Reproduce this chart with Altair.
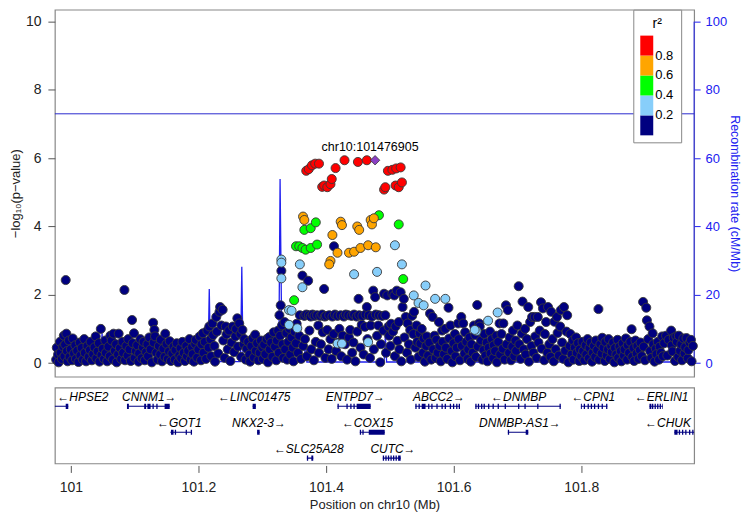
import altair as alt
import pandas as pd

# ---------------- axes / ranges ----------------
X_DOMAIN = [100.975, 101.977]
Y_DOMAIN = [-0.4, 10.35]
R_DOMAIN = [-4.0, 103.5]
X_TICKS = [101.0, 101.2, 101.4, 101.6, 101.8]
Y_TICKS = [0, 2, 4, 6, 8, 10]
R_TICKS = [0, 20, 40, 60, 80, 100]
R2_BREAKS = [0.2, 0.4, 0.6, 0.8]
R2_COLORS = ["#000080", "#87CEFA", "#00FF00", "#FFA500", "#FF0000"]

LEAD_POS = 101.476905
LEAD_LOGP = 5.94
LEAD_LABEL = "chr10:101476905"
SIG_LEVEL = 7.3

# ---------------- SNPs (position Mb, -log10 p) ----------------
navy = [
    (100.977,0.10),(100.978,0.45),(100.980,0.25),(100.981,0.02),(100.983,0.62),(100.984,0.30),(100.986,0.12),
    (100.988,0.48),(100.989,0.80),(100.990,0.20),(100.991,0.54),(100.992,2.43),(100.993,0.86),(100.994,0.35),
    (100.995,0.05),(100.997,0.66),(100.998,0.18),(101.000,0.40),(101.002,0.08),(101.003,0.72),(101.005,0.28),
    (101.007,0.52),(101.008,0.12),(101.010,0.36),(101.012,0.03),(101.014,0.60),(101.015,0.22),(101.017,0.44),
    (101.019,0.10),(101.021,0.70),(101.022,0.30),(101.024,0.05),(101.026,0.50),(101.028,0.18),(101.030,0.38),
    (101.031,0.62),(101.033,0.08),(101.035,0.26),(101.037,0.46),(101.039,0.78),(101.040,0.14),(101.042,0.34),
    (101.044,0.58),(101.045,0.04),(101.047,1.00),(101.048,0.24),(101.050,0.42),
    (101.052,0.12),(101.054,0.66),(101.055,0.30),(101.057,0.05),(101.059,0.48),(101.061,0.20),(101.062,0.80),
    (101.064,0.66),(101.066,0.10),(101.067,0.86),(101.069,0.36),(101.071,0.55),(101.072,0.02),(101.074,0.25),
    (101.075,0.86),(101.077,0.44),(101.079,0.12),(101.081,0.62),(101.082,0.30),(101.084,2.14),(101.085,0.08),
    (101.087,0.50),(101.089,0.22),(101.090,0.70),(101.092,0.40),(101.094,0.06),(101.096,1.26),(101.097,0.58),
    (101.099,0.87),(101.100,0.15),(101.102,0.35),
    (101.104,0.52),(101.106,0.04),(101.107,0.28),(101.109,0.70),(101.111,0.14),(101.113,0.46),(101.114,0.62),
    (101.116,0.08),(101.118,0.32),(101.120,0.55),(101.121,0.20),(101.123,0.75),(101.125,0.40),(101.127,0.02),
    (101.129,1.18),(101.130,0.60),(101.131,0.97),(101.132,0.78),(101.134,0.30),(101.136,0.10),(101.138,0.50),
    (101.140,0.25),(101.141,0.68),(101.143,0.05),(101.145,0.42),(101.147,0.18),(101.148,0.86),(101.150,0.56),
    (101.152,0.12),(101.154,0.34),(101.155,0.64),(101.157,0.06),
    (101.159,0.28),(101.161,0.48),(101.163,0.10),(101.164,0.38),(101.166,0.58),(101.168,0.02),(101.170,0.22),
    (101.172,0.44),(101.173,0.14),(101.175,0.62),(101.177,0.30),(101.179,0.06),(101.181,0.50),(101.182,0.20),
    (101.184,0.36),(101.186,0.70),(101.188,0.10),(101.190,0.46),(101.191,0.26),(101.193,0.04),(101.195,0.56),
    (101.196,0.68),(101.198,0.16),(101.200,0.40),
    (101.202,0.78),(101.204,0.08),(101.205,0.55),(101.207,0.87),(101.208,0.30),(101.210,0.62),(101.212,0.12),
    (101.214,0.95),(101.216,0.45),(101.217,1.07),(101.219,0.70),(101.220,0.20),(101.222,1.16),(101.223,0.82),
    (101.225,0.50),(101.226,0.04),(101.228,1.35),(101.229,0.92),(101.231,0.28),(101.233,1.50),(101.234,1.64),
    (101.236,1.10),(101.238,1.56),(101.239,0.66),(101.241,0.15),(101.243,1.07),(101.244,0.84),(101.246,0.40),
    (101.248,0.95),(101.250,0.06),(101.252,0.60),(101.254,1.07),(101.256,0.32),(101.258,0.78),(101.259,1.00),
    (101.261,1.31),(101.262,0.48),(101.264,1.16),(101.266,0.85),(101.267,0.18),(101.269,0.97),(101.271,0.55),
    (101.272,0.70),
    (101.274,0.10),(101.276,0.42),(101.278,0.62),(101.280,0.25),(101.281,0.04),(101.283,0.50),(101.285,0.72),
    (101.287,0.16),(101.289,0.83),(101.290,0.36),(101.292,0.58),(101.294,0.08),(101.296,0.30),(101.298,0.66),
    (101.300,0.46),(101.301,0.12),(101.303,0.54),(101.305,0.26),(101.307,0.70),(101.309,0.02),(101.311,0.76),
    (101.312,0.40),(101.314,0.60),(101.316,0.18),(101.318,0.90),(101.320,0.48),(101.322,0.08),(101.323,0.66),
    (101.325,0.95),(101.326,0.30),(101.327,1.40),(101.328,0.80),(101.329,1.69),(101.330,2.70),(101.331,1.10),
    (101.332,0.55),(101.333,0.15),
    (101.335,1.20),(101.336,0.40),(101.338,0.88),(101.339,0.10),(101.341,0.62),(101.343,1.00),(101.344,0.25),
    (101.346,0.75),(101.348,0.45),(101.349,0.05),(101.351,0.92),(101.353,0.58),(101.354,1.15),(101.356,0.30),
    (101.358,0.80),(101.359,1.40),(101.361,0.12),(101.363,2.56),(101.364,0.50),(101.366,1.38),(101.367,0.70),
    (101.369,1.42),(101.370,0.20),(101.372,2.41),(101.373,1.40),(101.374,0.95),(101.376,1.36),(101.377,0.40),
    (101.379,1.42),(101.381,0.08),(101.382,1.38),(101.384,0.62),(101.386,1.40),(101.388,1.10),(101.389,0.30),
    (101.391,1.38),(101.392,0.55),(101.394,1.42),(101.395,0.90),(101.397,2.17),(101.398,1.36),(101.399,0.15),
    (101.400,1.38),(101.402,0.97),(101.404,0.40),(101.405,1.40),(101.407,0.70),(101.409,0.12),(101.410,1.36),
    (101.412,0.85),(101.4125,3.42),(101.414,1.42),(101.416,0.35),(101.418,1.38),(101.419,0.60),(101.421,1.00),
    (101.423,1.40),(101.424,0.20),(101.426,0.80),(101.428,1.36),(101.430,0.55),(101.431,1.42),(101.433,0.10),
    (101.435,1.40),(101.436,0.75),(101.438,0.97),(101.440,1.38),(101.441,0.30),(101.443,0.60),(101.444,1.42),
    (101.446,0.05),(101.448,1.36),(101.449,0.92),(101.451,1.88),(101.452,1.40),(101.454,0.45),(101.456,1.12),
    (101.457,1.38),(101.459,0.25),(101.461,1.06),(101.462,1.42),(101.464,1.64),(101.465,0.70),(101.467,1.40),
    (101.469,0.15),(101.470,1.10),(101.472,1.36),(101.474,2.12),(101.475,0.40),(101.477,1.93),(101.478,1.42),
    (101.480,0.80),(101.482,1.10),(101.483,1.40),(101.485,0.02),(101.486,0.55),(101.488,1.38),(101.490,0.95),
    (101.491,2.03),(101.493,1.40),(101.494,0.30),(101.496,1.98),(101.498,1.07),(101.499,0.80),(101.501,0.50),
    (101.502,1.15),(101.504,2.03),(101.505,0.92),(101.507,1.98),(101.508,0.20),(101.509,1.07),(101.511,2.12),
    (101.512,0.65),(101.514,1.20),(101.515,0.40),(101.517,2.07),(101.518,0.05),(101.520,1.64),(101.522,1.88),
    (101.523,0.75),(101.525,1.35),(101.527,0.30),(101.528,1.16),(101.530,0.55),(101.532,0.97),(101.533,0.10),
    (101.535,1.38),(101.537,0.85),(101.538,1.50),(101.540,0.45),(101.542,1.10),(101.543,0.62),(101.545,0.18),
    (101.547,0.87),(101.548,0.57),(101.550,1.00),(101.552,0.30),(101.553,0.72),(101.555,0.04),(101.557,0.50),
    (101.558,0.78),
    (101.560,0.22),(101.562,0.60),(101.563,1.45),(101.565,0.10),(101.567,1.35),(101.568,0.40),(101.570,0.80),
    (101.572,0.15),(101.573,0.68),(101.575,0.30),(101.577,1.20),(101.578,0.50),(101.580,0.05),(101.582,0.95),
    (101.583,0.62),(101.585,0.26),(101.587,1.00),(101.588,0.45),(101.590,0.12),(101.592,1.62),(101.593,0.72),
    (101.595,1.10),(101.597,0.35),(101.598,0.02),(101.600,0.58),(101.602,0.85),(101.603,0.20),(101.605,0.45),
    (101.607,1.16),(101.608,0.70),(101.610,0.08),(101.612,1.35),(101.613,0.50),(101.615,1.16),(101.617,0.28),
    (101.618,0.90),(101.620,0.62),(101.622,0.12),(101.623,0.40),(101.625,0.75),(101.627,0.04),(101.628,0.55),
    (101.630,0.30),(101.632,1.10),(101.634,0.82),(101.635,0.18),(101.637,1.70),(101.638,0.48),(101.640,1.16),
    (101.641,1.07),(101.643,0.66),(101.645,0.10),(101.647,0.38),(101.648,0.85),
    (101.650,0.22),(101.652,0.60),(101.653,0.05),(101.655,0.45),(101.657,0.92),(101.658,0.28),(101.660,0.70),
    (101.662,0.14),(101.663,0.52),(101.665,0.35),(101.667,0.80),(101.668,0.02),(101.670,0.62),(101.672,1.16),
    (101.673,0.25),(101.675,0.85),(101.677,0.42),(101.678,1.16),(101.680,0.10),(101.682,1.69),(101.683,0.55),
    (101.685,1.55),(101.687,0.30),(101.688,0.75),(101.690,0.08),(101.692,0.48),(101.693,0.95),(101.695,0.20),
    (101.697,0.66),(101.698,0.36),(101.700,1.10),(101.702,2.25),(101.703,0.55),(101.705,0.12),(101.707,0.86),
    (101.708,1.80),(101.710,0.40),(101.712,1.00),(101.713,0.25),(101.715,0.70),(101.717,1.64),(101.718,0.04),
    (101.720,1.20),(101.722,0.50),(101.723,1.35),(101.725,0.30),(101.727,1.35),(101.728,0.78),(101.730,0.15),
    (101.732,1.35),(101.733,0.60),(101.735,0.95),(101.737,1.78),(101.738,0.42),(101.740,1.60),(101.742,0.08),
    (101.743,0.85),(101.745,1.20),(101.747,0.30),(101.748,1.64),
    (101.750,0.55),(101.752,0.18),(101.753,1.50),(101.755,0.70),(101.757,0.05),(101.758,1.21),(101.760,0.40),
    (101.762,1.35),(101.763,0.88),(101.765,0.22),(101.767,1.07),(101.768,1.55),(101.770,0.60),(101.772,0.12),
    (101.773,1.64),(101.775,0.36),(101.777,0.92),(101.778,1.40),(101.780,0.02),(101.782,0.50),(101.783,0.85),
    (101.785,0.25),(101.787,0.66),(101.788,0.10),(101.790,0.45),(101.792,0.75),(101.793,0.30),(101.795,0.58),
    (101.797,0.06),(101.798,0.40),(101.800,0.20),(101.802,0.62),(101.803,0.35),(101.805,0.08),(101.807,0.52),
    (101.808,0.25),(101.810,0.70),(101.812,0.14),(101.813,0.44),(101.815,0.60),(101.817,0.04),(101.818,0.30),
    (101.820,0.50),(101.822,0.18),(101.823,0.66),(101.825,0.38),(101.827,1.58),(101.828,0.10),(101.830,0.55),
    (101.832,0.28),(101.833,0.74),(101.835,0.45),(101.837,0.06),(101.838,0.62),(101.840,0.22),(101.842,0.40),
    (101.843,0.70),(101.845,0.12),(101.847,0.50),
    (101.848,0.32),(101.850,0.60),(101.852,0.02),(101.853,0.44),(101.855,0.25),(101.857,0.68),(101.858,0.15),
    (101.860,0.48),(101.862,0.35),(101.863,0.05),(101.865,0.58),(101.867,0.22),(101.868,0.40),(101.870,0.72),
    (101.872,0.10),(101.873,0.52),(101.875,0.30),(101.877,0.62),(101.879,0.99),(101.880,0.18),(101.882,0.44),
    (101.883,0.06),(101.885,0.66),(101.887,0.28),(101.888,0.50),(101.890,0.12),(101.892,0.38),(101.893,0.60),
    (101.895,0.20),(101.897,1.79),(101.898,0.48),(101.900,0.08),(101.902,1.62),(101.903,1.25),(101.905,0.70),
    (101.907,1.07),(101.908,0.35),(101.910,0.15),(101.912,0.87),(101.913,0.55),(101.915,0.04),(101.917,0.42),
    (101.918,0.26),(101.920,0.62),(101.922,0.10),(101.923,0.48),(101.925,0.30),(101.927,0.78),(101.928,0.20),
    (101.930,0.58),(101.933,0.80),(101.935,0.22),(101.937,0.68),(101.941,0.95),(101.942,0.52),(101.943,0.34),
    (101.945,0.74),(101.947,0.06),(101.949,0.78),(101.950,0.62),(101.952,0.18),(101.953,0.80),(101.955,0.36),
    (101.957,0.55),(101.958,0.08),(101.960,0.72),(101.962,0.28),(101.963,0.46),(101.965,0.73),(101.967,0.14),
    (101.968,0.38),(101.970,0.60),(101.972,0.68),(101.973,0.05),(101.975,0.50),
]
light_blue = [
    (101.330,3.03),(101.330,2.94),(101.330,2.48),(101.342,1.55),(101.346,1.53),(101.342,1.12),(101.355,1.02),
    (101.359,2.89),(101.363,2.22),(101.418,0.57),(101.425,0.57),(101.466,0.61),(101.444,2.60),(101.480,2.67),
    (101.508,3.45),(101.519,2.89),(101.556,2.27),(101.5375,1.98),(101.545,1.76),(101.553,1.69),(101.571,1.88),
    (101.587,1.88),(101.669,1.48),(101.654,1.24),(101.636,0.94),(101.633,0.97),
]
green = [
    (101.350,1.84),(101.521,2.46),(101.514,4.06),(101.483,4.33),(101.353,3.42),(101.358,3.42),(101.363,3.37),
    (101.368,3.32),(101.376,3.37),(101.386,3.47),(101.366,3.90),(101.376,3.95),(101.384,4.12),
]
orange = [
    (101.364,4.29),(101.366,4.19),(101.423,4.14),(101.425,4.04),(101.449,4.00),(101.452,3.90),(101.470,4.19),
    (101.472,4.06),(101.475,4.24),(101.410,3.75),(101.418,3.23),(101.436,3.23),(101.444,3.26),(101.454,3.37),
    (101.466,3.45),(101.478,3.39),(101.407,2.99),(101.405,2.89),
]
red = [
    (101.369,5.63),(101.373,5.68),(101.378,5.79),(101.383,5.84),(101.389,5.84),(101.415,5.71),(101.429,5.94),
    (101.450,5.89),(101.464,5.94),(101.497,5.63),(101.504,5.66),(101.510,5.70),(101.517,5.73),(101.394,5.16),
    (101.397,5.20),(101.402,5.15),(101.407,5.24),(101.409,5.39),(101.491,5.08),(101.493,5.15),(101.509,5.20),
    (101.514,5.15),(101.519,5.29),
]
GROUP_R2 = {"navy": 0.1, "light_blue": 0.3, "green": 0.5, "orange": 0.7, "red": 0.9}

# ---------------- recombination rate ----------------
rec_pos = [100.975,
           101.047, 101.049, 101.051,
           101.115, 101.117, 101.119,
           101.215, 101.217, 101.219,
           101.266, 101.268, 101.270,
           101.326, 101.328, 101.331,
           101.366, 101.368, 101.370,
           101.491, 101.493, 101.495,
           101.588, 101.5895, 101.591,
           101.845, 101.847, 101.849,
           101.977]
rec_rate = [0.4,
            0.4, 8.7, 0.4,
            0.4, 6.8, 0.4,
            0.4, 21.7, 0.4,
            0.4, 28.2, 0.4,
            0.4, 53.9, 0.4,
            0.4, 7.8, 0.3,
            0.3, 8.4, 0.3,
            0.3, 5.4, 0.3,
            0.3, 5.8, 0.3,
            0.3]
REC_AXIS_SPAN = [0, 100]

# ---------------- genes ----------------
gene_name = ["HPSE2", "CNNM1", "LINC01475", "ENTPD7", "ABCC2", "DNMBP", "CPN1", "ERLIN1",
             "GOT1", "NKX2-3", "COX15", "DNMBP-AS1", "CHUK", "SLC25A28", "CUTC"]
gene_start = [100.70, 101.088, 101.285, 101.418, 101.540, 101.634, 101.7995, 101.907,
              101.156, 101.292, 101.453, 101.685, 101.946, 101.370, 101.489]
gene_end = [100.996, 101.155, 101.290, 101.470, 101.610, 101.768, 101.841, 101.928,
            101.190, 101.296, 101.492, 101.717, 101.990, 101.380, 101.517]
gene_strand = ["-", "+", "-", "+", "+", "-", "-", "-", "-", "+", "-", "+", "-", "-", "+"]
gene_row = [0, 0, 0, 0, 0, 0, 0, 0, 1, 1, 1, 1, 1, 2, 2]
gene_label_pos = [101.019, 101.123, 101.2875, 101.446, 101.577, 101.702, 101.819, 101.926,
                  101.170, 101.295, 101.465, 101.704, 101.936, 101.373, 101.505]
exons = {
    "HPSE2": [(100.992, 100.996)],
    "CNNM1": [(101.088, 101.091), (101.115, 101.118), (101.120, 101.125), (101.128, 101.130),
              (101.134, 101.136), (101.147, 101.155)],
    "LINC01475": [(101.285, 101.290)],
    "ENTPD7": [(101.418, 101.420), (101.432, 101.434), (101.438, 101.440), (101.443, 101.445),
               (101.448, 101.470)],
    "ABCC2": [(101.540, 101.542), (101.545, 101.547), (101.550, 101.556), (101.560, 101.562),
              (101.565, 101.567), (101.573, 101.575), (101.581, 101.583), (101.586, 101.588),
              (101.594, 101.596), (101.599, 101.601), (101.604, 101.606), (101.608, 101.610)],
    "DNMBP": [(101.634, 101.636), (101.638, 101.640), (101.643, 101.645), (101.647, 101.649),
              (101.654, 101.656), (101.661, 101.663), (101.669, 101.671), (101.680, 101.682),
              (101.701, 101.703), (101.711, 101.713), (101.731, 101.733), (101.766, 101.768)],
    "CPN1": [(101.7995, 101.801), (101.804, 101.806), (101.810, 101.812), (101.815, 101.817),
             (101.820, 101.822), (101.826, 101.828), (101.832, 101.834), (101.839, 101.841)],
    "ERLIN1": [(101.907, 101.910), (101.911, 101.913), (101.915, 101.917), (101.919, 101.921),
               (101.923, 101.925), (101.927, 101.928)],
    "GOT1": [(101.157, 101.161), (101.163, 101.165), (101.180, 101.182), (101.188, 101.190)],
    "NKX2-3": [(101.292, 101.296)],
    "COX15": [(101.453, 101.455), (101.457, 101.459), (101.467, 101.492)],
    "DNMBP-AS1": [(101.685, 101.687), (101.713, 101.717)],
    "CHUK": [(101.946, 101.951), (101.953, 101.955), (101.958, 101.960), (101.963, 101.965),
             (101.969, 101.971), (101.974, 101.976)],
    "SLC25A28": [(101.370, 101.372), (101.377, 101.380)],
    "CUTC": [(101.489, 101.491), (101.493, 101.495), (101.497, 101.499), (101.501, 101.503),
             (101.505, 101.507), (101.509, 101.511), (101.513, 101.517)],
}

# ---------------- tables ----------------
rows = []
for gname, lst in [("navy", navy), ("light_blue", light_blue), ("green", green),
                   ("orange", orange), ("red", red)]:
    for p, lp in lst:
        rows.append({"pos": p, "logp": lp, "r2": GROUP_R2[gname]})
snp_df = pd.DataFrame(rows)
lead_df = pd.DataFrame({"pos": [LEAD_POS], "logp": [LEAD_LOGP], "label": [LEAD_LABEL]})
sig_df = pd.DataFrame({"logp": [SIG_LEVEL]})
rec_df = pd.DataFrame({"pos": rec_pos, "rate": rec_rate})
rec_axis_df = pd.DataFrame({"pos": [X_DOMAIN[1]], "rate": [REC_AXIS_SPAN[0]], "rate_end": [REC_AXIS_SPAN[1]]})

gene_df = pd.DataFrame({"name": gene_name, "start": gene_start, "end": gene_end,
                        "strand": gene_strand, "row": gene_row, "lab": gene_label_pos})
gene_df["text"] = [("\u2190" + n) if s == "-" else (n + "\u2192") for n, s in zip(gene_name, gene_strand)]
ex_rows = []
for n, r in zip(gene_name, gene_row):
    for a, b in exons[n]:
        ex_rows.append({"name": n, "start": a, "end": b, "row": r - 0.1, "row_end": r + 0.1})
exon_df = pd.DataFrame(ex_rows)

# ---------------- scales ----------------
FONT = "Liberation Sans"
BLUE = "#2121F0"
xs = alt.Scale(domain=X_DOMAIN, nice=False, zero=False)
ys = alt.Scale(domain=Y_DOMAIN, nice=False, zero=False)
rs = alt.Scale(domain=R_DOMAIN, nice=False, zero=False)
cs = alt.Scale(type="threshold", domain=R2_BREAKS, range=R2_COLORS)

W = 641
H_TOP = 368
H_GENE = 76

left_axis = alt.Axis(
    values=Y_TICKS, title="\u2212log\u2081\u2080(p\u2212value)", domain=False, grid=False,
    tickSize=7, labelPadding=7, titlePadding=3, labelFontSize=14, titleFontSize=13,
    titleFontWeight="normal", tickColor="#555555", labelColor="#222222", titleColor="#222222")
right_axis = alt.Axis(
    orient="right", values=R_TICKS, title="Recombination rate (cM/Mb)", domain=False,
    tickColor=BLUE, labelColor=BLUE, titleColor=BLUE, tickSize=6, labelPadding=5,
    titlePadding=1, labelFontSize=13, titleFontSize=12.5, titleFontWeight="normal", grid=False)

recomb = alt.Chart(rec_df).mark_line(color=BLUE, strokeWidth=1.3, clip=True).encode(
    x=alt.X("pos:Q", scale=xs, axis=None),
    y=alt.Y("rate:Q", scale=rs, axis=right_axis),
)
recomb_axisline = alt.Chart(rec_axis_df).mark_rule(color=BLUE, strokeWidth=1).encode(
    x=alt.X("pos:Q", scale=xs, axis=None),
    y=alt.Y("rate:Q", scale=rs, axis=right_axis),
    y2="rate_end:Q",
)

sig = alt.Chart(sig_df).mark_rule(color="#2A2ACF", strokeWidth=1).encode(
    y=alt.Y("logp:Q", scale=ys, axis=left_axis))

points = alt.Chart(snp_df).mark_point(filled=True, size=82, stroke="#383838", strokeWidth=0.9,
                                       opacity=1).encode(
    x=alt.X("pos:Q", scale=xs, axis=None),
    y=alt.Y("logp:Q", scale=ys, axis=left_axis),
    color=alt.Color("r2:Q", scale=cs, legend=alt.Legend(
        type="gradient", direction="vertical", orient="none", legendX=580, legendY=0,
        title="r\u00b2", titleFontSize=14, titleFontWeight="normal", titleAnchor="middle",
        labelFontSize=13, format=".1f", gradientLength=100, gradientThickness=13,
        fillColor="white", strokeColor="#888888", padding=7)),
    order=alt.Order("r2:Q"),
)
lead = alt.Chart(lead_df).mark_point(shape="diamond", filled=True, size=90, color="#8A3FC4",
                                     stroke="#383838", strokeWidth=0.8, opacity=1).encode(
    x=alt.X("pos:Q", scale=xs, axis=None),
    y=alt.Y("logp:Q", scale=ys, axis=left_axis),
)
lead_text = alt.Chart(lead_df).mark_text(fontSize=12.5, dy=-9.5, dx=-5, baseline="alphabetic",
                                         color="black").encode(
    x=alt.X("pos:Q", scale=xs, axis=None),
    y=alt.Y("logp:Q", scale=ys, axis=left_axis),
    text="label:N",
)

top = alt.layer(
    alt.layer(recomb, recomb_axisline),
    alt.layer(points, sig, lead, lead_text),
).resolve_scale(y="independent").properties(width=W, height=H_TOP)

gys = alt.Scale(domain=[-0.719, 2.204], reverse=True, nice=False, zero=False)
x_axis = alt.Axis(
    values=X_TICKS, format="~f", title="Position on chr10 (Mb)", domain=False, grid=False,
    tickSize=7, offset=2, labelPadding=8, titlePadding=4, labelFontSize=14, titleFontSize=13,
    titleFontWeight="normal", tickColor="#555555", labelColor="#222222", titleColor="#222222")
gene_lines = alt.Chart(gene_df).mark_rule(color="#000080", strokeWidth=1.1, clip=True).encode(
    x=alt.X("start:Q", scale=xs, axis=x_axis),
    x2="end:Q",
    y=alt.Y("row:Q", scale=gys, axis=None),
)
gene_exons = alt.Chart(exon_df).mark_rect(color="#000080", clip=True).encode(
    x=alt.X("start:Q", scale=xs, axis=x_axis),
    x2="end:Q",
    y=alt.Y("row:Q", scale=gys, axis=None),
    y2="row_end:Q",
)
gene_labels = alt.Chart(gene_df).mark_text(fontSize=12, fontStyle="italic", dy=-9,
                                           baseline="middle", color="black").encode(
    x=alt.X("lab:Q", scale=xs, axis=x_axis),
    y=alt.Y("row:Q", scale=gys, axis=None),
    text="text:N",
)
genes = alt.layer(gene_lines, gene_exons, gene_labels).properties(width=W, height=H_GENE)

chart = alt.vconcat(top, genes, spacing=11, bounds="flush").properties(
    padding={"left": 0, "top": 0, "right": 0, "bottom": 0}
).configure(font=FONT).configure_view(stroke="#888888", strokeWidth=1.2)

chart.save("out.html", embed_options={"renderer": "svg", "actions": False})
